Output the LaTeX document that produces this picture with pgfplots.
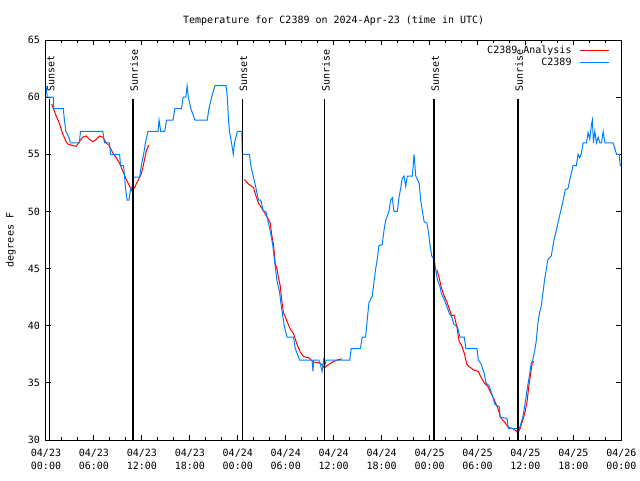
\documentclass[border=0pt]{standalone}
\usepackage{fontspec}
\setmainfont{DejaVu Sans Mono}
\usepackage{pgfplots}
\pgfplotsset{compat=1.18}
\definecolor{obsblue}{RGB}{0,128,255}
\definecolor{anred}{RGB}{255,0,0}
\begin{document}
\begin{tikzpicture}[x=1pt,y=1pt]
\useasboundingbox (0,0) rectangle (480,360);
\begin{axis}[
  at={(34.5pt,30pt)}, anchor=south west,
  scale only axis, width=431.5pt, height=300pt,
  xmin=0, xmax=72, ymin=30, ymax=65,
  xtick={0,6,...,72},
  xticklabels={{04/23\\00:00},{04/23\\06:00},{04/23\\12:00},{04/23\\18:00},{04/24\\00:00},{04/24\\06:00},{04/24\\12:00},{04/24\\18:00},{04/25\\00:00},{04/25\\06:00},{04/25\\12:00},{04/25\\18:00},{04/26\\00:00}},
  minor x tick num=2,
  ytick={30,35,...,65},
  tick align=inside, tick pos=both,
  major tick length=3.75pt, minor tick length=2.25pt,
  axis line style={line width=0.75pt},
  every tick/.style={black, line width=0.75pt},
  font=\fontsize{7.5}{9.75}\selectfont,
  xticklabel style={align=center, yshift=-3.5pt, font=\fontsize{7.5}{9.75}\selectfont},
  yticklabel style={xshift=-1pt, font=\fontsize{7.5}{9.75}\selectfont},
  /pgf/number format/assume math mode=true,
  title={Temperature for C2389 on 2024-Apr-23 (time in UTC)},
  every axis title/.style={at={(0.5,1)}, anchor=base, yshift=12.4pt},
  ylabel={degrees F},
  every axis y label/.style={at={(axis description cs:-0.0608,0.5)}, rotate=90, anchor=center},
  legend plot pos=right,
  legend cell align=right,
  legend style={at={(axis description cs:1,1)}, anchor=north east, draw=none, fill=none,
    inner sep=0pt, column sep=5pt, row sep=0pt, nodes={inner sep=1pt},
    font=\fontsize{7.5}{9.2}\selectfont, xshift=-8.5pt, yshift=-3pt},
  legend image code/.code={\draw[#1, line width=0.9pt] (0pt,0pt) -- (21.75pt,0pt);},
]
\addplot[anred, line width=0.75pt] coordinates {
(0.71,59.4) (1.25,58.4) (1.67,57.7) (2.09,56.8) (2.51,56.1) (2.72,55.9) (3.14,55.8) (3.77,55.7)
(4.18,56.1) (4.60,56.5) (5.02,56.6) (5.44,56.3) (5.86,56.1) (6.28,56.3) (6.70,56.6) (7.11,56.5)
(7.53,56.0) (7.95,55.7) (8.37,55.1) (8.79,54.7) (9.21,54.2) (9.63,53.5) (10.05,52.8) (10.46,52.2)
(10.76,51.8) (11.09,52.1) (11.51,52.7) (11.93,53.3) (12.14,53.9) (12.35,54.6) (12.56,55.3) (12.85,55.8)
};
\addlegendentry{C2389 Analysis}
\addplot[anred, line width=0.75pt, forget plot] coordinates {
(24.83,52.8) (25.33,52.4) (25.96,52.1) (26.17,51.6) (26.59,50.7) (27.00,50.3) (27.42,49.8) (27.84,49.3)
(28.05,49.0) (28.26,47.9) (28.47,47.1) (28.68,45.5) (28.89,45.0) (29.10,44.2) (29.31,43.5) (29.52,42.1)
(29.73,41.1) (29.94,40.8) (30.15,40.4) (30.57,39.7) (30.98,39.3) (31.40,38.4) (31.82,37.7) (32.24,37.3)
(32.87,37.2) (33.50,36.8) (34.00,36.8) (34.54,36.6) (34.84,36.3) (35.17,36.5) (35.80,36.8) (36.43,37.0)
(37.06,37.1)
};
\addplot[anred, line width=0.75pt, forget plot] coordinates {
(48.91,44.9) (49.20,44.2) (49.49,43.3) (49.83,42.6) (50.16,42.1) (50.46,41.5) (50.75,40.9) (51.08,40.9)
(51.42,39.9) (51.71,38.6) (52.00,38.3) (52.34,37.6) (52.68,36.6) (52.97,36.4) (53.60,36.1) (54.10,36.0)
(54.43,35.5) (54.85,35.0) (55.27,34.7) (55.69,34.1) (56.11,33.5) (56.53,32.8) (56.95,31.9) (57.36,31.6)
(57.87,31.1) (58.41,31.0) (58.83,30.8) (59.04,30.6) (59.33,31.0) (59.67,31.75) (59.96,32.5) (60.21,33.4)
(60.42,34.7) (60.63,35.7) (60.84,36.7) (61.05,36.9)
};
\addplot[obsblue, line width=0.75pt] coordinates {
(0.00,61) (0.16,60) (0.92,60) (0.98,59) (2.17,59) (2.30,58) (2.49,57) (2.86,56.5) (3.05,56) (4.18,56)
(4.31,57) (7.11,57) (7.32,56) (7.95,56) (8.08,55) (9.21,55) (9.33,54) (9.71,54) (9.84,53) (9.96,52)
(10.15,51) (10.38,51) (10.59,52) (10.72,52) (11.01,53) (11.72,53) (11.93,54) (12.22,55) (12.44,56)
(12.76,57) (14.02,57) (14.15,58) (14.36,57) (14.86,57) (15.08,58) (15.90,58) (16.12,59) (16.96,59)
(17.16,60) (17.50,60) (17.66,61) (17.81,60) (18.13,59) (18.38,58.5) (18.63,58) (20.18,58) (20.39,59)
(20.73,60) (21.14,61) (22.53,61) (22.69,60) (22.84,58) (22.96,57) (23.22,56) (23.44,55) (23.59,56)
(23.94,57) (24.50,57) (24.57,55) (25.46,55) (25.63,54) (25.96,53) (26.29,52) (26.59,51) (26.88,51)
(27.21,50) (27.51,50) (27.84,49) (28.14,48) (28.39,47) (28.55,46) (28.72,45) (28.89,44) (29.22,43)
(29.39,42) (29.60,41) (29.81,40) (30.15,39) (30.98,39) (31.19,38) (31.74,37) (33.29,37) (33.41,36)
(33.50,37) (33.71,37) (34.13,37) (34.33,36.7) (34.54,36) (34.75,37) (34.88,36.5) (35.05,37) (38.02,37)
(38.19,38) (39.36,38) (39.57,39) (39.99,39) (40.20,40.5) (40.41,42) (40.83,42.6) (41.04,43.8)
(41.24,44.9) (41.45,45.8) (41.66,47) (42.08,47.1) (42.29,48.3) (42.50,49.2) (42.92,50) (43.13,51)
(43.34,51.2) (43.55,50) (43.97,50) (44.17,51.2) (44.38,52) (44.59,52.9) (44.80,53.1) (45.01,52.2)
(45.22,53.1) (45.85,53.1) (46.06,55) (46.27,53.1) (46.69,52.5) (46.90,50.9) (47.11,50) (47.32,49.1)
(47.65,49) (47.82,48.4) (48.03,47.2) (48.28,46.1) (48.57,45.8) (48.78,44.9) (48.99,44) (49.32,43.4)
(49.49,42.8) (49.83,42.3) (50.16,41.7) (50.46,41.1) (50.75,40.8) (51.08,40.1) (51.50,39.9) (51.80,39)
(52.34,39) (52.55,38) (53.93,38) (54.10,37) (54.43,36.7) (54.85,35.8) (55.06,35) (55.48,34.7)
(55.90,33.8) (56.19,33.1) (56.74,32.9) (56.82,32) (57.70,31.9) (57.87,31) (59.25,31) (59.46,31.5)
(59.67,32) (59.88,32.9) (60.09,33.8) (60.30,34.8) (60.51,35.7) (60.71,36.7) (60.92,37) (61.13,37.7)
(61.34,38.6) (61.55,40.2) (61.76,41.1) (61.97,41.7) (62.18,42.8) (62.39,44) (62.60,44.9) (62.81,45.8)
(63.23,46.1) (63.57,47.5) (63.78,48.1) (64.07,49) (64.40,50) (64.70,50.9) (64.99,51.9) (65.32,52)
(65.66,53.1) (65.83,53.6) (65.95,54) (66.37,54) (66.58,55) (66.79,54.7) (67.00,55.1) (67.21,56)
(67.63,56) (67.84,56.9) (68.05,56.3) (68.26,57.6) (68.38,58) (68.51,56) (68.68,57) (68.89,56)
(69.10,56.5) (69.31,56) (69.52,56) (69.73,57) (69.94,56) (70.98,56) (71.19,55.5) (71.40,55)
(71.74,55) (71.86,54) (72.00,54)
};
\addlegendentry{C2389}
\addplot[black, line width=1pt, forget plot] coordinates {(0.45,30) (0.45,59.86)};
\addplot[black, line width=1pt, forget plot] coordinates {(10.88,30) (10.88,59.86)};
\addplot[black, line width=1pt, forget plot] coordinates {(24.57,30) (24.57,59.86)};
\addplot[black, line width=1pt, forget plot] coordinates {(34.87,30) (34.87,59.86)};
\addplot[black, line width=1pt, forget plot] coordinates {(48.57,30) (48.57,59.86)};
\addplot[black, line width=1pt, forget plot] coordinates {(59.05,30) (59.05,59.86)};
\node[rotate=90, anchor=west, inner sep=0pt] at (axis cs:0.60,60.5) {Sunset};
\node[rotate=90, anchor=west, inner sep=0pt] at (axis cs:11.03,60.5) {Sunrise};
\node[rotate=90, anchor=west, inner sep=0pt] at (axis cs:24.72,60.5) {Sunset};
\node[rotate=90, anchor=west, inner sep=0pt] at (axis cs:35.02,60.5) {Sunrise};
\node[rotate=90, anchor=west, inner sep=0pt] at (axis cs:48.72,60.5) {Sunset};
\node[rotate=90, anchor=west, inner sep=0pt] at (axis cs:59.20,60.5) {Sunrise};
\end{axis}
\end{tikzpicture}
\end{document}
